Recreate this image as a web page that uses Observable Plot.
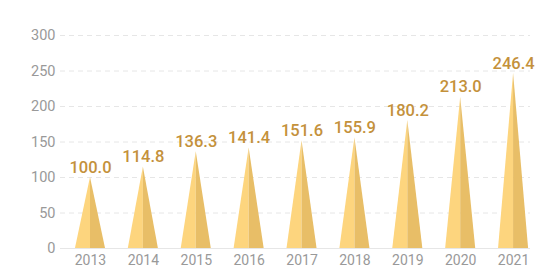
<!DOCTYPE html>
<html>
<head>
<meta charset="utf-8">
<script src="https://cdn.jsdelivr.net/npm/d3@7"></script>
<script src="https://cdn.jsdelivr.net/npm/@observablehq/plot@0.6"></script>
<style>
  html, body { margin: 0; padding: 0; background: #fff; }
  #chart { width: 560px; height: 280px; }
</style>
</head>
<body>
<div id="chart"></div>
<script>
const years = ["2013", "2014", "2015", "2016", "2017", "2018", "2019", "2020", "2021"];
const values = [100.0, 114.8, 136.3, 141.4, 151.6, 155.9, 180.2, 213.0, 246.4];
const yTicks = [0, 50, 100, 150, 200, 250, 300];

const halfWidth = 0.284;
const leftPts = [], rightPts = [];
years.forEach((yr, i) => {
  const v = values[i];
  leftPts.push({id: yr, x: i - halfWidth, y: 0}, {id: yr, x: i, y: v});
  rightPts.push({id: yr, x: i, y: v}, {id: yr, x: i + halfWidth, y: 0});
});
const labels = years.map((yr, i) => ({i, v: values[i]}));

const font = "Roboto, sans-serif";

const chart = Plot.plot({
  width: 560,
  height: 280,
  marginTop: 35,
  marginBottom: 32,
  marginLeft: 60,
  marginRight: 30,
  style: {fontFamily: font, background: "#fff"},
  x: {domain: [-0.567, 8.32], axis: null},
  y: {domain: [0, 300], axis: null},
  marks: [
    Plot.ruleY(yTicks.filter(d => d > 0), {stroke: "#e6e6e6", strokeDasharray: "5,4", strokeWidth: 1}),
    Plot.ruleY([0], {stroke: "#e6e6e6", strokeWidth: 1}),
    Plot.areaY(leftPts, {x: "x", y: "y", z: "id", fill: "#fdd57e", curve: "linear"}),
    Plot.areaY(rightPts, {x: "x", y: "y", z: "id", fill: "#e8be67", curve: "linear"}),
    Plot.axisY(yTicks, {tickSize: 0, tickPadding: 5, fontSize: 14.5, fill: "#999", tickFormat: d => d, label: null}),
    Plot.axisX(d3.range(years.length), {tickSize: 0, tickPadding: 7, fontSize: 14, fill: "#999", tickFormat: i => years[i], label: null}),
    Plot.text(labels, {x: "i", y: "v", text: d => d.v.toFixed(1), dy: -5, lineAnchor: "bottom", fill: "#c4913b", fontSize: 16.5, fontWeight: 500})
  ]
});
document.getElementById("chart").appendChild(chart);
</script>
</body>
</html>
